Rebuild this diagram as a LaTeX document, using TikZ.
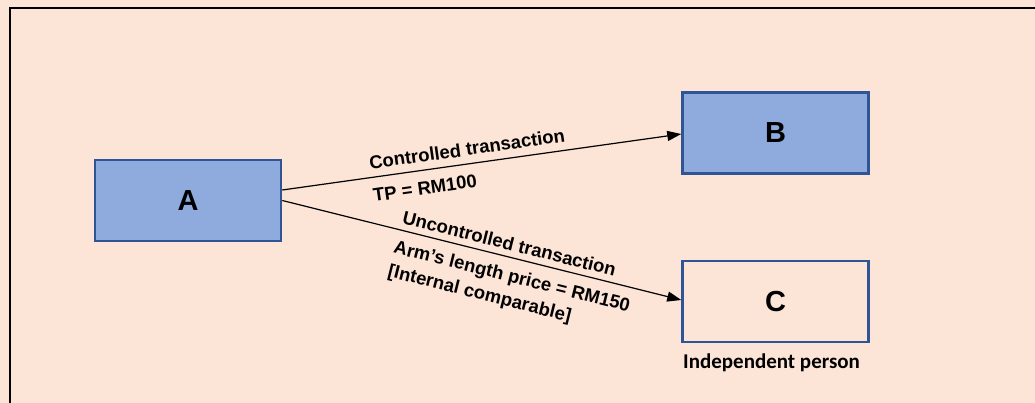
\documentclass[tikz,border=0pt]{standalone}
\usepackage{fontspec}
\setmainfont{Liberation Sans}
\newfontfamily\capfont{Carlito}
\usetikzlibrary{arrows.meta}

\definecolor{peach}{HTML}{FCE4D6}
\definecolor{boxblue}{HTML}{8FAADC}
\definecolor{edgeblue}{HTML}{2F5597}

\tikzset{
  entity/.style={draw=edgeblue, line width=2.5pt, minimum width=186pt,
    minimum height=81pt, inner sep=0pt,
    font=\bfseries\fontsize{29}{34}\selectfont},
  flow/.style={line width=1.2pt, -{Triangle[length=14pt,width=10pt]}},
  lbl/.style={inner sep=0pt, font=\bfseries\fontsize{18.5}{24.3}\selectfont}
}

\begin{document}
\begin{tikzpicture}[x=1pt,y=-1pt]
  % page background and frame
  \fill[peach] (0,0) rectangle (1035,403);
  \useasboundingbox (0,0) rectangle (1035,403);
  \draw[line width=2pt] (10,405) -- (10,8.5) -- (1037,8.5);

  % parties
  \node[entity, fill=boxblue] (A) at (188,200.5) {A};
  \node[entity, fill=boxblue] (B) at (775.5,133) {B};
  \node[entity, fill=peach]   (C) at (775.5,301.5) {C};
  \node[inner sep=0pt, anchor=west, font=\capfont\bfseries\fontsize{21}{25}\selectfont]
    (indep) at (683,363) {Independent person};

  % transactions
  \draw[flow] ([yshift=10.5pt]A.east) -- ([yshift=-1pt]B.west);
  \draw[flow] (A.east) -- ([yshift=1.5pt]C.west);

  % transaction labels
  \node[lbl, rotate=8.1]  (ct)  at (467,149)   {Controlled transaction};
  \node[lbl, rotate=8.1]  (tp)  at (425,188)   {TP = RM100};
  \node[lbl, rotate=-14]  (ut)  at (509.5,243.5) {Uncontrolled transaction};
  \node[lbl, rotate=-14, align=left, anchor=west] (alp) at (391,260)
    {Arm’s length price = RM150\\{[Internal comparable]}};
\end{tikzpicture}
\end{document}
